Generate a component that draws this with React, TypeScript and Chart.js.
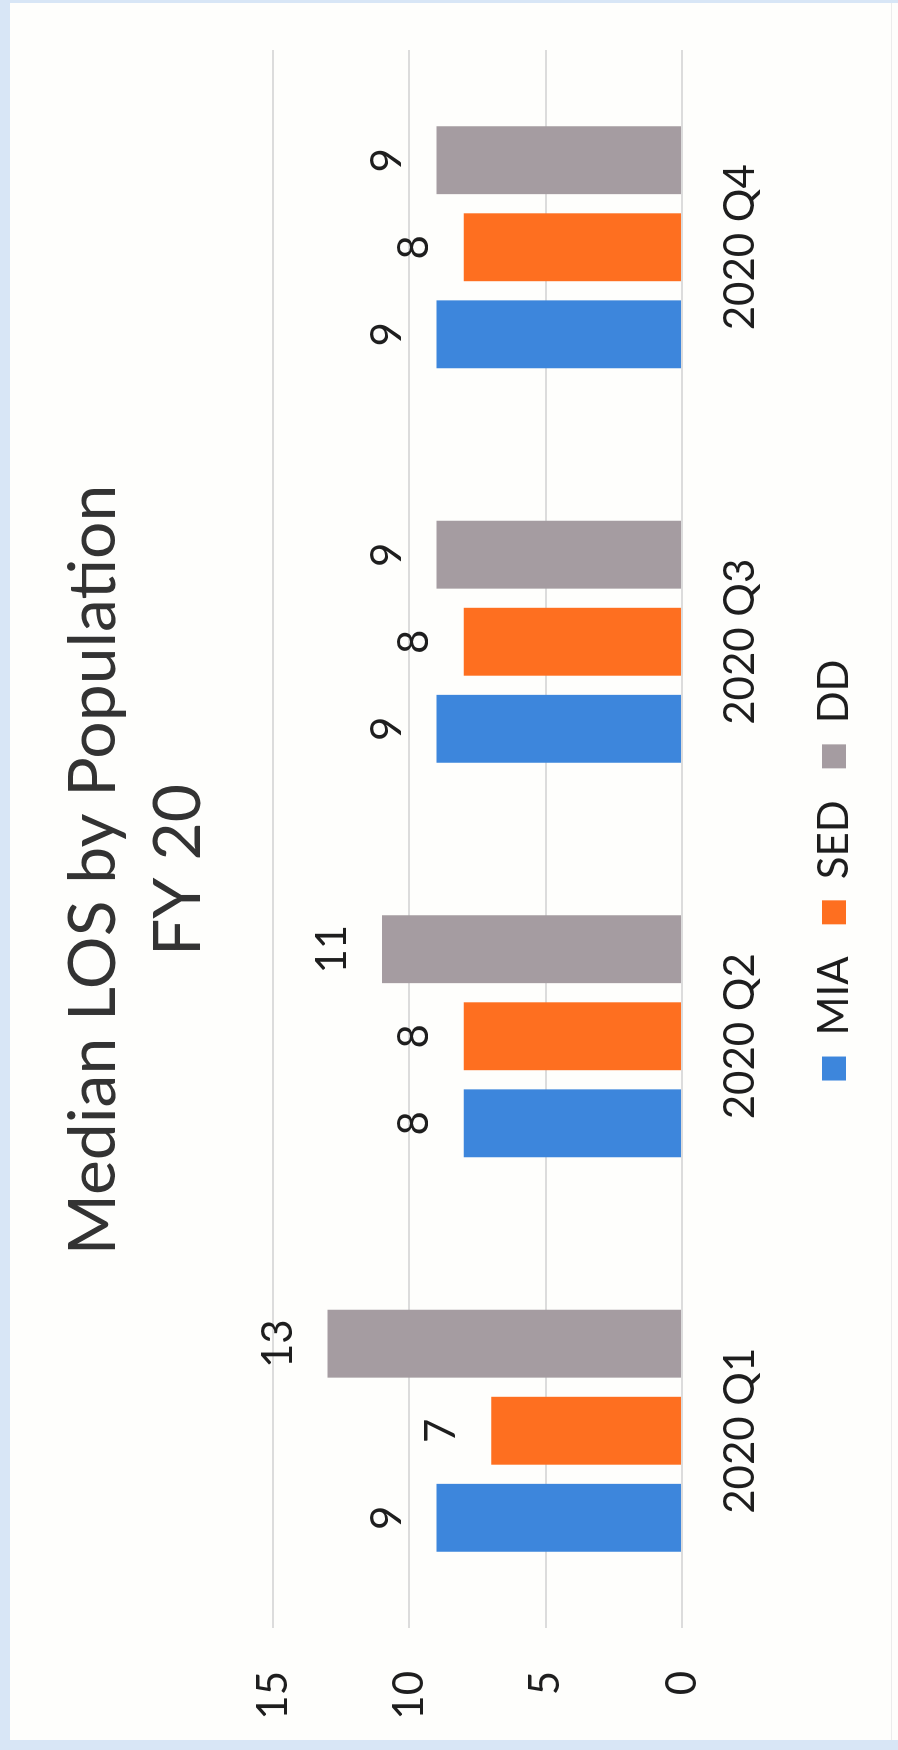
import React, { useEffect, useRef } from "react";
import { Chart, registerables } from "chart.js";

Chart.register(...registerables);

const categories = ["2020 Q1", "2020 Q2", "2020 Q3", "2020 Q4"];
const seriesNames = ["MIA", "SED", "DD"];
const miaValues = [9, 8, 9, 9];
const sedValues = [7, 8, 8, 8];
const ddValues = [13, 11, 9, 9];
const seriesColors = ["#3d86dc", "#fe6f20", "#a59ca1"];
const titleLines = ["Median LOS by Population", "FY 20"];
const yMin = 0;
const yMax = 15;
const yStep = 5;

const FONT = "Lato, 'Open Sans', 'Liberation Sans', sans-serif";
const TEXT = "#1e1e1e";

// unrotated drawing size (the picture is the chart turned a quarter turn counter-clockwise)
const CW = 1750;
const CH = 898;

export default function App() {
  const ref = useRef<HTMLCanvasElement | null>(null);

  useEffect(() => {
    const canvas = ref.current;
    if (!canvas) return;

    const valueLabels = {
      id: "valueLabels",
      afterDatasetsDraw(chart: any) {
        const ctx = chart.ctx;
        ctx.save();
        ctx.font = `42px ${FONT}`;
        ctx.fillStyle = TEXT;
        ctx.textAlign = "center";
        ctx.textBaseline = "alphabetic";
        chart.data.datasets.forEach((ds: any, i: number) => {
          const meta = chart.getDatasetMeta(i);
          meta.data.forEach((el: any, j: number) => {
            ctx.fillText(String(ds.data[j]), el.x, el.y - 36);
          });
        });
        ctx.restore();
      },
    };

    const seriesData = [miaValues, sedValues, ddValues];

    const chart = new Chart(canvas, {
      type: "bar",
      data: {
        labels: categories,
        datasets: seriesNames.map((name, i) => ({
          label: name,
          data: seriesData[i],
          backgroundColor: seriesColors[i],
          borderWidth: 0,
          categoryPercentage: 0.662,
          barPercentage: 0.78,
          yAxisID: "y",
        })),
      },
      options: {
        responsive: false,
        animation: false,
        devicePixelRatio: 1,
        layout: { padding: { left: 10, right: 0, top: 0, bottom: 33 } },
        plugins: {
          title: {
            display: true,
            text: titleLines,
            color: "#333333",
            font: { family: FONT, size: 66, weight: "normal", lineHeight: 85 / 66 },
            padding: { top: 51, bottom: 52 },
          },
          legend: {
            position: "bottom",
            labels: {
              color: TEXT,
              font: { family: FONT, size: 42 },
              boxWidth: 24,
              boxHeight: 24,
              padding: 32,
            },
          },
          tooltip: { enabled: false },
        },
        scales: {
          x: {
            grid: { display: false, drawTicks: false },
            border: { display: false },
            ticks: { color: TEXT, font: { family: FONT, size: 42 }, padding: 33 },
            afterFit: (s: any) => {
              s.height = 99;
            },
          },
          y: {
            min: yMin,
            max: yMax,
            ticks: { stepSize: yStep, color: TEXT, font: { family: FONT, size: 42 }, padding: 43 },
            grid: { color: "#dcdcdc", lineWidth: 2, drawTicks: false },
            border: { display: false },
            afterFit: (s: any) => {
              s.width = 112;
            },
          },
          yRight: {
            type: "linear",
            position: "right",
            min: yMin,
            max: yMax,
            ticks: { display: false },
            grid: { display: false, drawTicks: false },
            border: { display: false },
            afterFit: (s: any) => {
              s.width = 50;
            },
          },
        },
      },
      plugins: [valueLabels],
    });

    return () => chart.destroy();
  }, []);

  return (
    <div
      style={{
        position: "absolute",
        left: 0,
        top: 0,
        width: 898,
        height: 1750,
        background: "#fefefc",
        overflow: "hidden",
      }}
    >
      <div style={{ position: "absolute", left: 0, top: 0, width: 10, height: 1750, background: "#d8e6f6" }} />
      <div style={{ position: "absolute", left: 0, top: 0, width: 898, height: 3, background: "#d8e6f6" }} />
      <div style={{ position: "absolute", left: 0, top: 1740, width: 898, height: 10, background: "#d8e6f6" }} />
      <div style={{ position: "absolute", left: 891, top: 3, width: 1, height: 1737, background: "#ececec" }} />
      <canvas
        ref={ref}
        width={CW}
        height={CH}
        style={{
          position: "absolute",
          left: 0,
          top: 0,
          width: CW,
          height: CH,
          transformOrigin: "0 0",
          transform: `translate(0px, ${CW}px) rotate(-90deg)`,
        }}
      />
    </div>
  );
}
